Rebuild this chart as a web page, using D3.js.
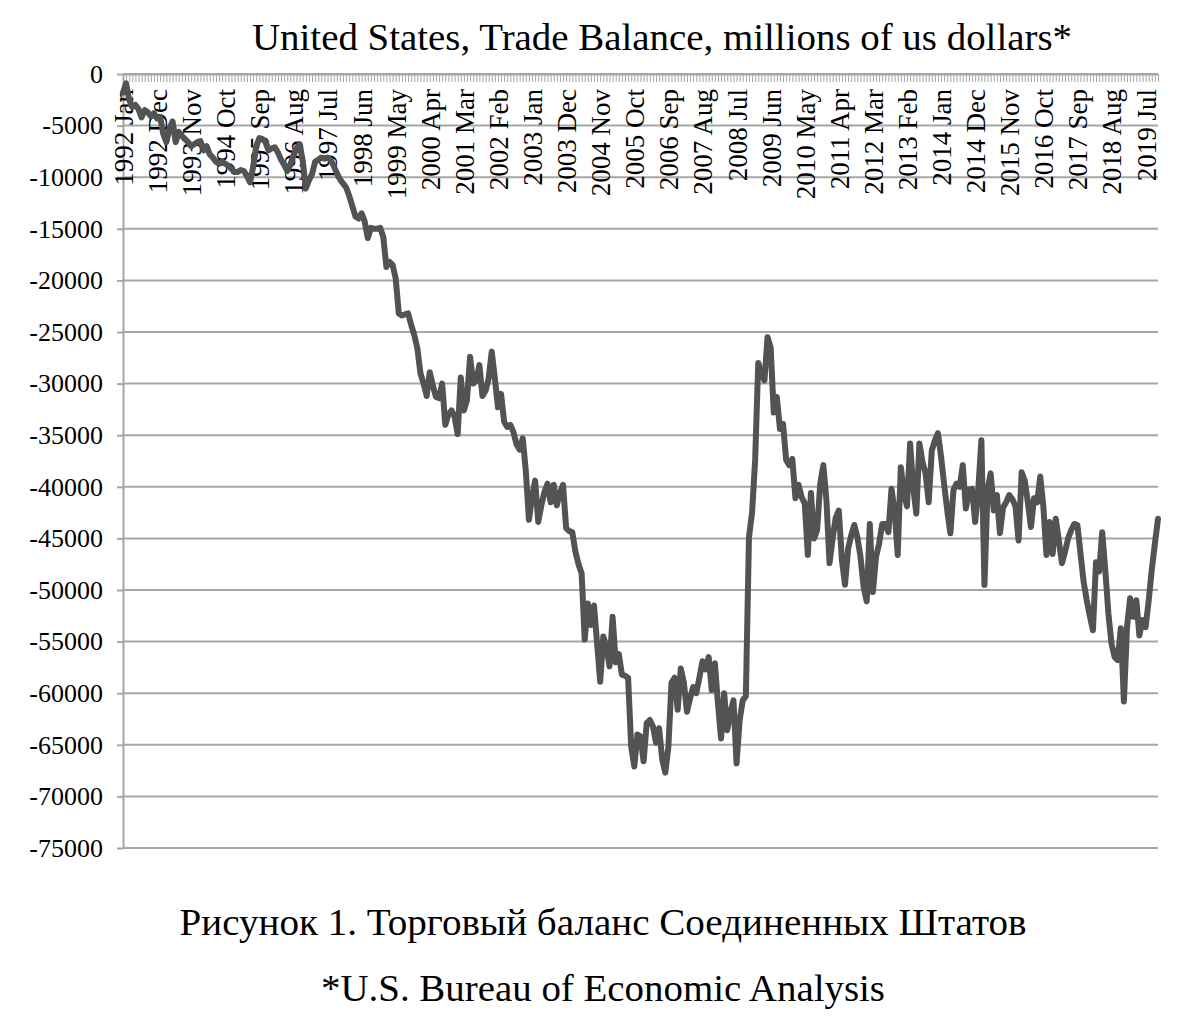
<!DOCTYPE html>
<html><head><meta charset="utf-8">
<script src="https://cdn.jsdelivr.net/npm/d3@7"></script>
<style>body{margin:0;background:#fff} svg{display:block}</style>
</head><body><svg id="c" width="1194" height="1019"></svg>
<script>
const monthNames = ["Jan","Feb","Mar","Apr","May","Jun","Jul","Aug","Sep","Oct","Nov","Dec"];
const startYear = 1992;
const tradeBalance = [
-1800,-900,-2500,-3200,-3000,-3400,-4200,-3500,-3700,-4100,
-3800,-4300,-4200,-5800,-6600,-5300,-4600,-6600,-5600,-6000,
-6300,-6600,-7000,-6800,-6600,-6500,-7400,-7000,-7800,-8100,
-8500,-8700,-8500,-8700,-8900,-9200,-9500,-9500,-9300,-9400,
-9900,-10500,-9000,-7000,-6200,-6300,-6600,-7400,-7200,-7100,
-7600,-8300,-8800,-9400,-8800,-7900,-7200,-6800,-8400,-11100,
-10300,-9700,-8500,-8300,-8100,-8200,-8100,-8300,-8900,-9600,
-10200,-10600,-11000,-11800,-12800,-13800,-14000,-13500,-14300,-15900,
-14900,-15000,-15000,-14900,-15800,-18700,-18200,-18500,-19800,-23200,
-23400,-23300,-23200,-24300,-25300,-26600,-29000,-30000,-31200,-28900,
-30200,-31300,-31400,-30000,-34000,-33000,-32600,-33200,-34900,-29400,
-32600,-31600,-27400,-30000,-29700,-28200,-31200,-30700,-29500,-26900,
-29500,-32300,-31000,-33700,-34200,-34000,-34700,-35900,-36400,-35300,
-38500,-43200,-41000,-39400,-43400,-41800,-40500,-39700,-41500,-39800,
-41800,-40600,-39800,-44000,-44300,-44400,-46300,-47500,-48400,-54800,
-51300,-53400,-51500,-55200,-58900,-54500,-55500,-57400,-52600,-57000,
-56200,-58200,-58300,-58500,-65200,-67100,-64000,-64200,-66600,-62900,
-62600,-63200,-64800,-63400,-66400,-67700,-65200,-59000,-58500,-61600,
-57600,-59000,-61800,-60500,-59400,-60000,-58500,-56900,-57700,-56500,
-59700,-57100,-61000,-64400,-60000,-63600,-61900,-60700,-66800,-62600,
-60700,-60300,-44900,-42500,-37400,-28000,-29000,-29700,-25500,-26500,
-32800,-31300,-34400,-33900,-37400,-37900,-37300,-41100,-39800,-41000,
-41600,-46600,-40600,-45000,-44200,-39700,-37900,-41300,-47400,-45000,
-43000,-42300,-47100,-49500,-46000,-44700,-43700,-44900,-46800,-49700,
-51100,-43600,-50200,-46800,-45500,-43600,-43600,-44400,-40200,-42300,
-46600,-38100,-40600,-41900,-35800,-40000,-42600,-35800,-37600,-38700,
-41500,-36500,-35500,-34800,-37100,-39800,-42300,-44500,-40300,-39700,
-40000,-37900,-42100,-40300,-40200,-43400,-40300,-35500,-49500,-40300,
-38700,-42300,-40800,-44500,-42000,-41500,-40800,-41200,-41900,-45200,
-38600,-39400,-41500,-43900,-41100,-41500,-39000,-41900,-46600,-43400,
-46500,-43100,-45200,-47400,-46300,-45000,-44200,-43600,-43700,-46500,
-49200,-51000,-52500,-53900,-47300,-48200,-44400,-48100,-52300,-55200,
-56500,-56800,-53700,-60800,-53600,-50800,-52600,-51000,-54400,-52900,
-53600,-51000,-48000,-45500,-43100
];
const categories = tradeBalance.map((d, i) => `${startYear + Math.floor(i / 12)} ${monthNames[i % 12]}`);
const xTickLabels = ["1992 Jan","1992 Dec","1993 Nov","1994 Oct","1995 Sep","1996 Aug","1997 Jul","1998 Jun","1999 May","2000 Apr","2001 Mar","2002 Feb","2003 Jan","2003 Dec","2004 Nov","2005 Oct","2006 Sep","2007 Aug","2008 Jul","2009 Jun","2010 May","2011 Apr","2012 Mar","2013 Feb","2014 Jan","2014 Dec","2015 Nov","2016 Oct","2017 Sep","2018 Aug","2019 Jul"];
const yTickValues = [0,-5000,-10000,-15000,-20000,-25000,-30000,-35000,-40000,-45000,-50000,-55000,-60000,-65000,-70000,-75000];
const titleText = "United States, Trade Balance, millions of us dollars*";
const captionLines = ["Рисунок 1. Торговый баланс Соединенных Штатов", "*U.S. Bureau of Economic Analysis"];

const FONT = "'Liberation Serif','Times New Roman',serif";
const svg = d3.select("#c");
const plotL = 123, plotR = 1158, plotT = 74, plotB = 848;
const gridColor = "#a6a6a6";

const x = d3.scalePoint().domain(categories).range([plotL, plotR]);
const y = d3.scaleLinear().domain([0, -75000]).range([plotT, plotB]);

// gridlines
svg.append("g").selectAll("line").data(yTickValues).join("line")
  .attr("x1", plotL).attr("x2", plotR)
  .attr("y1", d => y(d)).attr("y2", d => y(d))
  .attr("stroke", gridColor).attr("stroke-width", 2);

// y axis
const gy = svg.append("g").attr("transform", `translate(${plotL},0)`)
  .call(d3.axisLeft(y).tickValues(yTickValues).tickSize(6).tickSizeOuter(0).tickPadding(14).tickFormat(d => String(d)));
gy.select(".domain").attr("stroke", gridColor).attr("stroke-width", 2);
gy.selectAll(".tick line").attr("stroke", gridColor).attr("stroke-width", 2);
gy.selectAll("text").attr("font-family", FONT).attr("font-size", 26).attr("fill", "#000");

// top category axis: tick per month
const gx = svg.append("g").attr("transform", `translate(0,${plotT})`)
  .call(d3.axisBottom(x).tickSize(8).tickSizeOuter(0).tickFormat(""));
gx.select(".domain").attr("stroke", gridColor).attr("stroke-width", 2);
gx.selectAll(".tick line").attr("stroke", gridColor).attr("stroke-width", 1);

// category labels
const gl = svg.append("g").attr("transform", `translate(0,${plotT})`)
  .call(d3.axisBottom(x).tickValues(xTickLabels).tickSize(0).tickPadding(0));
gl.select(".domain").remove();
gl.selectAll("text")
  .attr("transform", "rotate(-90)")
  .attr("text-anchor", "end")
  .attr("x", -15).attr("y", 0).attr("dy", "0.35em")
  .attr("font-family", FONT).attr("font-size", 27).attr("fill", "#000");

// line
const line = d3.line().x((d, i) => x(categories[i])).y(d => y(d));
svg.append("path").datum(tradeBalance)
  .attr("d", line).attr("fill", "none")
  .attr("stroke", "#535353").attr("stroke-width", 6)
  .attr("stroke-linejoin", "round").attr("stroke-linecap", "round");

// title
svg.append("text").attr("x", 662).attr("y", 50).attr("text-anchor", "middle")
  .attr("font-family", FONT).attr("font-size", 37).attr("fill", "#000")
  .attr("textLength", 820).attr("lengthAdjust", "spacingAndGlyphs").text(titleText);

// captions
const capLen = [847, 564];
svg.selectAll("text.cap").data(captionLines).join("text").attr("class", "cap")
  .attr("x", 603).attr("y", (d, i) => 935 + i * 66).attr("text-anchor", "middle")
  .attr("font-family", FONT).attr("font-size", 38).attr("fill", "#000")
  .attr("textLength", (d, i) => capLen[i]).attr("lengthAdjust", "spacingAndGlyphs").text(d => d);
</script></body></html>
